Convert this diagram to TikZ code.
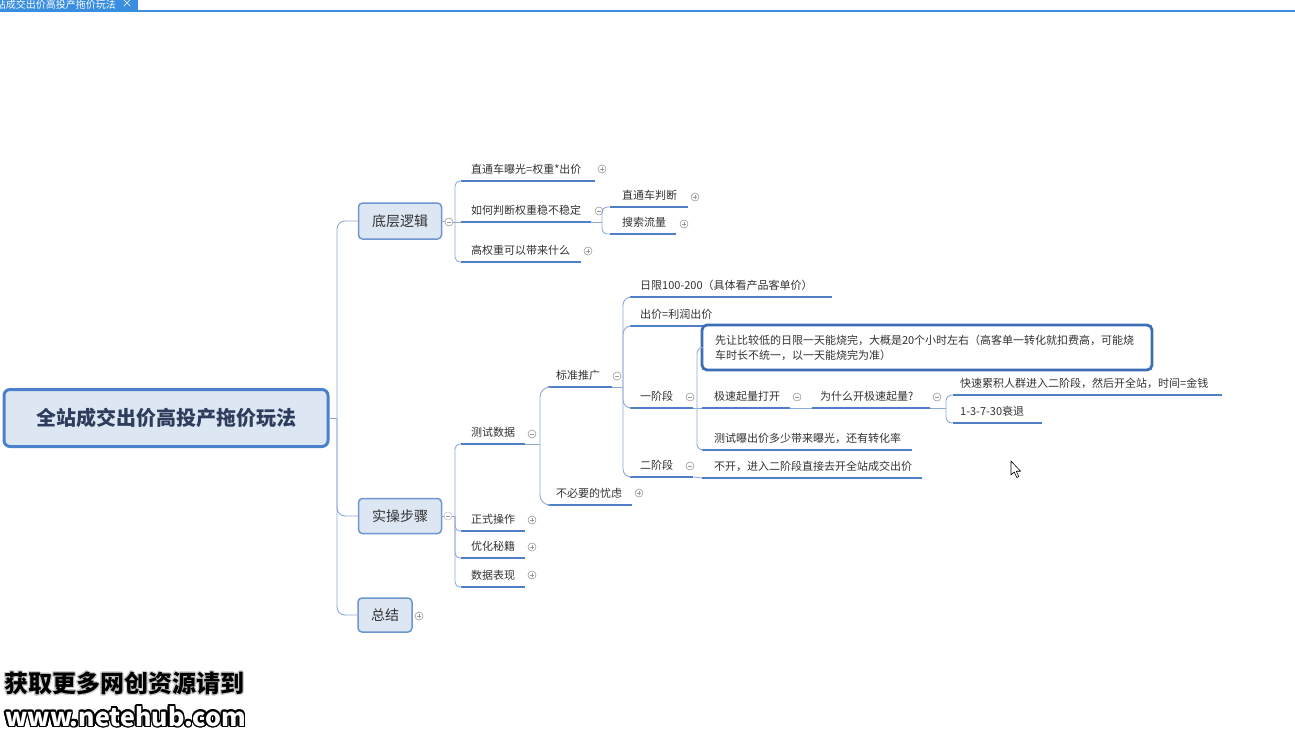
\documentclass[tikz,border=0pt]{standalone}
\usepackage{fontspec}
\setmainfont{Noto Sans CJK SC}
\usepackage[copies]{contour}
\usetikzlibrary{calc}
\definecolor{txt}{HTML}{333333}
\definecolor{ublue}{HTML}{4F7FC6}
\definecolor{cblue}{HTML}{8FA9D6}
\definecolor{lfill}{HTML}{DDE6F3}
\definecolor{lborder}{HTML}{6E96CF}
\definecolor{rborder}{HTML}{4A80CC}
\definecolor{rtext}{HTML}{2E3D5C}
\definecolor{bxborder}{HTML}{3D6DB5}
\definecolor{tab}{HTML}{3A8EE0}
\definecolor{mk}{HTML}{9A9A9A}
\tikzset{
  topic/.style={anchor=south west, inner xsep=0pt, inner ysep=5pt, align=left,
    font=\fontsize{11}{13}\selectfont, text=txt, text height=9pt, text depth=2pt},
  uline/.style={draw=ublue, line width=1.8pt},
  conn/.style={draw=cblue, line width=0.9pt},
  lone/.style={draw=lborder, fill=lfill, line width=1.5pt, rounded corners=4pt,
    font=\fontsize{14}{16}\selectfont, text=txt, inner sep=0pt},
  mkbase/.style={circle, draw=mk, line width=0.6pt, minimum size=8pt, inner sep=0pt, fill=white},
  mminus/.style={mkbase, path picture={\draw[mk, line width=0.6pt]
      ([xshift=-2.2pt]path picture bounding box.center) -- ([xshift=2.2pt]path picture bounding box.center);}},
  mplus/.style={mkbase, path picture={\draw[mk, line width=0.6pt]
      ([xshift=-2.2pt]path picture bounding box.center) -- ([xshift=2.2pt]path picture bounding box.center)
      ([yshift=-2.2pt]path picture bounding box.center) -- ([yshift=2.2pt]path picture bounding box.center);}},
}
\newcommand\tp[6]{\node[topic,text width=#3pt] (#1) at (#2,#4) {\hspace*{#5pt}\mbox{#6}};
  \draw[uline] (#1.south west) -- (#1.south east);}
\contourlength{1.3pt}
\begin{document}
\begin{tikzpicture}[x=1pt,y=-1pt]
\useasboundingbox[fill=white] (0,0) rectangle (1295,736);
% title bar
\begin{scope}
\clip (0,0) rectangle (138,11);
\fill[tab] (0,0) rectangle (138,11);
\node[anchor=east, inner sep=0pt, text=white, font=\fontsize{10}{11}\selectfont] (tabtxt) at (116,4.5) {站成交出价高投产拖价玩法};
\node[inner sep=0pt, text=white, font=\fontsize{11}{11}\selectfont] (tabx) at (127,4) {×};
\end{scope}
\draw[tab, line width=1.6pt] (0,11) -- (1295,11);

% root
\node[draw=rborder, fill=lfill, line width=3pt, rounded corners=6pt, minimum width=324pt, minimum height=57pt,
  font=\fontsize{20}{22}\selectfont\bfseries, text=rtext] (root) at (166,418) {全站成交出价高投产拖价玩法};

% level 1
\node[lone, minimum width=83pt, minimum height=36pt] (dc) at (400,221) {底层逻辑};
\node[lone, minimum width=83pt, minimum height=35pt] (sc) at (400,516) {实操步骤};
\node[lone, minimum width=54pt, minimum height=34pt] (zj) at (385,615) {总结};
\node[mminus] (dcm) at (449,222) {};
\node[mminus, draw=mk!60] (scm) at (448,516) {};
\node[mplus] (zjm) at (419,616) {};

\coordinate (tr) at (337,418);
\draw[conn] (root.east) -- (tr);
\draw[conn, rounded corners=8pt] (tr) |- (dc.west);
\draw[conn, rounded corners=8pt] (tr) |- (sc.west);
\draw[conn, rounded corners=8pt] (tr) |- (zj.west);

% 底层逻辑 children
\tp{a1}{461}{134}{181}{10}{直通车曝光=权重*出价}
\tp{a2}{461}{130}{222}{10}{如何判断权重稳不稳定}
\tp{a3}{461}{120}{262}{10}{高权重可以带来什么}
\node[mplus] (a1m) at (602,169) {};
\node[mminus] (a2m) at (599,211) {};
\node[mplus] (a3m) at (588,251) {};
\coordinate (bA) at (455,222);
\draw[conn] (dc.east) -- (dcm.west);
\draw[conn] (dcm.east) -- (bA);
\draw[conn] (bA) -- (a2.south west);
\draw[conn, rounded corners=5pt] (bA) |- (a1.south west);
\draw[conn, rounded corners=5pt] (bA) |- (a3.south west);

\tp{b1}{610}{78}{207}{12}{直通车判断}
\tp{b2}{610}{66}{234}{12}{搜索流量}
\node[mplus] (b1m) at (695,197) {};
\node[mplus] (b2m) at (684,224) {};
\coordinate (bB) at (602,222);
\draw[conn] (a2.south east) -- (bB);
\draw[conn, rounded corners=5pt] (bB) |- (b1.south west);
\draw[conn, rounded corners=5pt] (bB) |- (b2.south west);

% 实操步骤 children
\tp{c1}{461}{64}{444}{10}{测试数据}
\tp{c2}{461}{64}{531}{10}{正式操作}
\tp{c3}{461}{64}{558}{10}{优化秘籍}
\tp{c4}{461}{64}{587}{10}{数据表现}
\node[mminus] (c1m) at (532,434) {};
\node[mplus] (c2m) at (532,520) {};
\node[mplus] (c3m) at (532,547) {};
\node[mplus] (c4m) at (532,575) {};
\coordinate (bS) at (455,516);
\draw[conn] (sc.east) -- (scm.west);
\draw[conn] (scm.east) -- (bS);
\draw[conn, rounded corners=5pt] (bS) |- (c1.south west);
\draw[conn, rounded corners=5pt] (bS) |- (c2.south west);
\draw[conn, rounded corners=5pt] (bS) |- (c3.south west);
\draw[conn, rounded corners=5pt] (bS) |- (c4.south west);

% 测试数据 children
\tp{d1}{548}{64}{387}{8}{标准推广}
\tp{d2}{548}{84}{505}{8}{不必要的忧虑}
\node[mminus] (d1m) at (617,376) {};
\node[mplus] (d2m) at (639,493) {};
\coordinate (bC) at (540,444);
\draw[conn] (c1.south east) -- (bC);
\draw[conn, rounded corners=10pt] (bC) |- (d1.south west);
\draw[conn, rounded corners=10pt] (bC) |- (d2.south west);

% 标准推广 children
\tp{e1}{630}{202}{297}{10}{日限100-200（具体看产品客单价）}
\tp{e2}{630}{86}{326}{10}{出价=利润出价}
\tp{e3}{630}{63}{408}{10}{一阶段}
\tp{e4}{630}{63}{477}{10}{二阶段}
\node[mminus] (e3m) at (690,397) {};
\node[mminus] (e4m) at (690,466) {};
\coordinate (bD) at (623,387);
\draw[conn] (d1.south east) -- (bD);
\draw[conn, rounded corners=8pt] (bD) |- (e1.south west);
\draw[conn, rounded corners=8pt] (bD) |- (e2.south west);
\draw[conn, rounded corners=8pt] (bD) |- (e3.south west);
\draw[conn, rounded corners=8pt] (bD) |- (e4.south west);

% 一阶段 children
\node[draw=bxborder, fill=white, line width=2.8pt, rounded corners=5pt, minimum width=450pt, minimum height=45pt,
  text width=424pt, align=left, font=\fontsize{11}{15}\selectfont, text=txt, inner sep=0pt] (box) at (927,347.5)
  {先让比较低的日限一天能烧完，大概是20个小时左右（高客单一转化就扣费高，可能烧\\车时长不统一，以一天能烧完为准）};
\tp{f2}{702}{88}{408}{12}{极速起量打开}
\tp{f3}{702}{210}{450}{12}{测试曝出价多少带来曝光，还有转化率}
\node[mminus] (f2m) at (797,397) {};
\coordinate (bE) at (697,408);
\draw[conn] (e3.south east) -- (bE);
\draw[conn, rounded corners=6pt] (bE) |- (box.west);
\draw[conn] (bE) -- (f2.south west);
\draw[conn, rounded corners=6pt] (bE) |- (f3.south west);

% 二阶段 child
\tp{g1}{702}{220}{478}{12}{不开，进入二阶段直接去开全站成交出价}
\draw[conn] (e4.south east) -- (g1.south west);

% 极速起量打开 child
\tp{h1}{812}{118}{408}{8}{为什么开极速起量?}
\node[mminus] (h1m) at (937,397) {};
\draw[conn] (f2.south east) -- (h1.south west);

\tp{i1}{953}{269}{395}{7}{快速累积人群进入二阶段，然后开全站，时间=金钱}
\tp{i2}{953}{89}{423}{7}{1-3-7-30衰退}
\coordinate (bH) at (946,408);
\draw[conn] (h1.south east) -- (bH);
\draw[conn, rounded corners=6pt] (bH) |- (i1.south west);
\draw[conn, rounded corners=6pt] (bH) |- (i2.south west);

% mouse cursor
\draw[black, fill=white, line width=0.6pt, line join=round]
  (1011,461) -- (1011,475) -- (1014.2,472) -- (1016.8,477.5) -- (1018.8,476.6) -- (1016.3,471.2) -- (1020.5,471.2) -- cycle;

% watermark
\node[anchor=west, inner sep=0pt, font=\fontsize{24}{26}\selectfont\bfseries] (wm1) at (4,684)
  {\contourlength{1pt}\contour{gray!40}{获取更多网创资源请到}};
\node[anchor=west, inner sep=0pt, font=\fontsize{25}{27}\selectfont\bfseries] (wm2) at (5,717)
  {\contourlength{1.6pt}\contour{black}{\textcolor{white}{www.netehub.com}}};
\end{tikzpicture}
\end{document}
